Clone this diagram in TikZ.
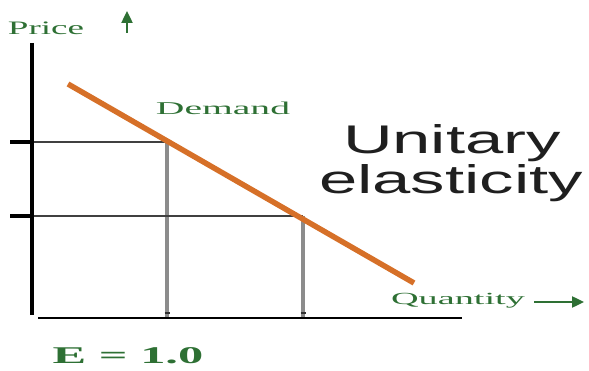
\documentclass[tikz,border=0pt]{standalone}
\usepackage{fontspec}
\setmainfont{Liberation Serif}
\newfontfamily\arialf{Liberation Sans}
\usetikzlibrary{arrows.meta}
\definecolor{lblgreen}{RGB}{46,112,52}
\definecolor{demandor}{RGB}{214,112,40}
\definecolor{guidegray}{RGB}{140,140,140}
\tikzset{
  lbl/.style={text=lblgreen, inner sep=0pt, anchor=base},
  bigtxt/.style={text=black!88, inner sep=0pt, anchor=base, font=\arialf\fontsize{40}{40}\selectfont, xscale=1.72},
  axisline/.style={line width=3.4pt, black},
  guideh/.style={line width=1.4pt, black!75},
  guidev/.style={line width=3.2pt, guidegray},
  demandline/.style={line width=5.5pt, demandor},
  garrow/.style={line width=2.4pt, lblgreen, -{Triangle[length=12pt,width=11pt]}},
}
\begin{document}
\begin{tikzpicture}[x=1pt,y=-1pt]
\useasboundingbox (0,0) rectangle (589,371);
% named coordinates
\coordinate (ytop) at (32,43);
\coordinate (ybot) at (32,315);
\coordinate (xl) at (38,318);
\coordinate (xr) at (462,318);
\coordinate (p1) at (167,142);
\coordinate (p2) at (303,216);
\coordinate (t1) at (10,142);
\coordinate (t2) at (10,216);
\coordinate (d1) at (68,84);
\coordinate (d2) at (414,283);
% guides
\draw[guidev] (p1) -- (p1 |- xl);
\draw[guidev] (p2) -- (p2 |- xl);
\draw[guideh] (ytop |- p1) -- (p1);
\draw[guideh] (ytop |- p2) -- (p2);
% axes
\draw[axisline] (ytop) -- (ybot);
\draw[line width=2.6pt, black] (xl) -- (xr);
\draw[axisline] (t1) -- (ytop |- t1);
\draw[axisline] (t2) -- (ytop |- t2);
\draw[line width=2pt, black!80] ([xshift=-2.5pt,yshift=4.5pt]p1 |- xl) -- ([xshift=2.5pt,yshift=4.5pt]p1 |- xl);
\draw[line width=2pt, black!80] ([xshift=-2.5pt,yshift=4.5pt]p2 |- xl) -- ([xshift=2.5pt,yshift=4.5pt]p2 |- xl);
% demand curve
\draw[demandline] (d1) -- (d2);
% labels
\node[lbl, font=\fontsize{19}{19}\selectfont, xscale=1.95] (price) at (46,35) {Price};
\coordinate (ua1) at (127,33);
\coordinate (ua2) at (127,11);
\draw[garrow] (ua1) -- (ua2);
\node[lbl, font=\fontsize{18}{18}\selectfont, xscale=2.2] (demand) at (223,115) {Demand};
\node[lbl, font=\fontsize{17}{17}\selectfont, xscale=2.25] (qty) at (458,305) {Quantity};
\coordinate (ra1) at (534,302);
\coordinate (ra2) at (584,302);
\draw[garrow] (ra1) -- (ra2);
\node[lbl, font=\bfseries\fontsize{24}{24}\selectfont, xscale=2.1] (elab) at (128,363) {E = 1.0};
\node[bigtxt] (unit) at (452,154) {Unitary};
\node[bigtxt] (elas) at (451,194) {elasticity};
\end{tikzpicture}
\end{document}
